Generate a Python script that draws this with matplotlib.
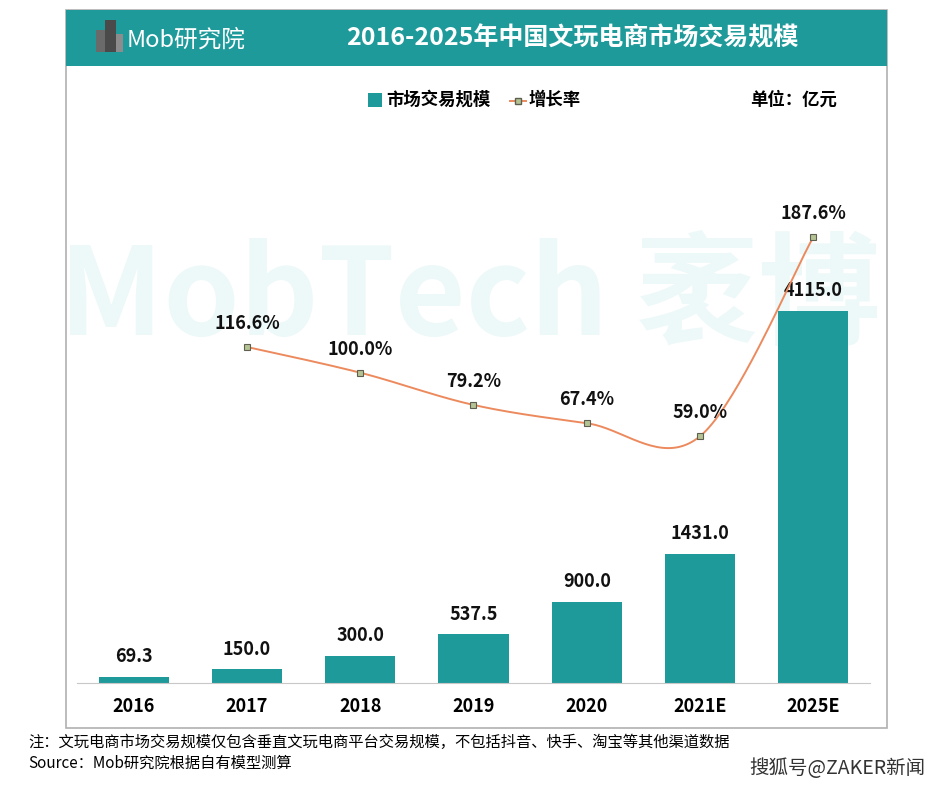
import numpy as np
import matplotlib.pyplot as plt
from matplotlib.patches import Rectangle

plt.rcParams['font.family'] = ['Noto Sans CJK SC', 'DejaVu Sans']

# 数据
anos = ['2016', '2017', '2018', '2019', '2020', '2021E', '2025E']
escala = [69.3, 150.0, 300.0, 537.5, 900.0, 1431.0, 4115.0]
taxa_anos = ['2017', '2018', '2019', '2020', '2021E', '2025E']
taxa = [116.6, 100.0, 79.2, 67.4, 59.0, 187.6]

teal = '#1f9a9b'
W, H = 932, 788

fig = plt.figure(figsize=(W / 100, H / 100), dpi=100)

def fx(px):
    return px / W

def fy(py):
    return 1 - py / H

# moldura e faixa do título
fig.patches.append(Rectangle((fx(66), fy(728)), fx(887) - fx(66), fy(10) - fy(728),
                             transform=fig.transFigure, facecolor='white',
                             edgecolor='#b0b0b0', lw=1.2, zorder=-2))
fig.patches.append(Rectangle((fx(66), fy(66)), fx(887) - fx(66), fy(10) - fy(66),
                             transform=fig.transFigure, facecolor=teal,
                             edgecolor='none', zorder=1))
fig.text(fx(572), fy(38), '2016-2025年中国文玩电商市场交易规模', color='white',
         fontsize=18, fontweight='bold', ha='center', va='center')

# logo simples
for (x0, y0, w, h, c) in [(96, 30, 9, 22, '#6a6a6a'), (105, 20, 11, 32, '#4a4a4a'),
                          (116, 34, 7, 18, '#8c8c8c')]:
    fig.patches.append(Rectangle((fx(x0), fy(y0 + h)), fx(w), h / H,
                                 transform=fig.transFigure, facecolor=c,
                                 edgecolor='none', zorder=2))
fig.text(fx(127), fy(40), 'Mob研究院', color='white', fontsize=17,
         style='italic', ha='left', va='center')

# marca d'água
fig.text(fx(470), fy(300), 'MobTech 袤博', color='#edf8f8', fontsize=88,
         style='italic', fontweight='bold', ha='center', va='center', zorder=-1)

# eixos principais
ax = fig.add_axes([fx(77), fy(683), fx(870) - fx(77), fy(120) - fy(683)])
ax.set_zorder(1)
ax.patch.set_alpha(0)
x = np.arange(len(anos))
ax.bar(x, escala, width=0.62, color=teal, zorder=2)
ax.set_xlim(-0.5, 6.5)
ax.set_ylim(0, 4115 * 563 / 372)
for i, v in enumerate(escala):
    ax.text(i, v + 120, f'{v:.1f}', ha='center', va='bottom', fontsize=13,
            fontweight='bold', color='#111111')
ax.set_xticks(x)
ax.set_xticklabels(anos, fontsize=13, fontweight='bold')
ax.tick_params(axis='x', length=0, pad=10)
ax.set_yticks([])
for s in ['top', 'left', 'right']:
    ax.spines[s].set_visible(False)
ax.spines['bottom'].set_color('#c8c8c8')

# linha suavizada (catmull-rom)
ax2 = ax.twinx()
ax2.set_zorder(2)
ax2.patch.set_alpha(0)
ax2.set_ylim(-100.3, 263.1)
xi = np.array([anos.index(a) for a in taxa_anos], dtype=float)
yi = np.array(taxa)
px = np.concatenate([[xi[0]], xi, [xi[-1]]])
py = np.concatenate([[yi[0]], yi, [yi[-1]]])
cx, cy = [], []
t = np.linspace(0, 1, 40)
for k in range(1, len(px) - 2):
    p0, p1, p2, p3 = px[k - 1], px[k], px[k + 1], px[k + 2]
    q0, q1, q2, q3 = py[k - 1], py[k], py[k + 1], py[k + 2]
    bx = 0.5 * ((2 * p1) + (-p0 + p2) * t + (2 * p0 - 5 * p1 + 4 * p2 - p3) * t ** 2 + (-p0 + 3 * p1 - 3 * p2 + p3) * t ** 3)
    by = 0.5 * ((2 * q1) + (-q0 + q2) * t + (2 * q0 - 5 * q1 + 4 * q2 - q3) * t ** 2 + (-q0 + 3 * q1 - 3 * q2 + q3) * t ** 3)
    cx.extend(bx)
    cy.extend(by)
ax2.plot(cx, cy, color='#ec8a5e', lw=1.4, zorder=3)
ax2.plot(xi, yi, ls='none', marker='s', ms=5, mfc='#b4c394', mec='#5f5f50', mew=0.8, zorder=4)
for xx, v in zip(xi, yi):
    ax2.text(xx, v + 9, f'{v:.1f}%', ha='center', va='bottom', fontsize=13,
             fontweight='bold', color='#111111')
ax2.set_yticks([])
for s in ['top', 'left', 'right', 'bottom']:
    ax2.spines[s].set_visible(False)

# legenda
fig.patches.append(Rectangle((fx(368), fy(107)), fx(14), 14 / H, transform=fig.transFigure,
                             facecolor=teal, edgecolor='none'))
fig.text(fx(386), fy(100), '市场交易规模', fontsize=12.5, fontweight='bold', va='center')
fig.lines.append(plt.Line2D([fx(510), fx(526)], [fy(101), fy(101)], transform=fig.transFigure,
                            color='#ec8a5e', lw=1.4))
fig.lines.append(plt.Line2D([fx(518)], [fy(101)], transform=fig.transFigure, marker='s',
                            ms=5, mfc='#b4c394', mec='#5f5f50', ls='none'))
fig.text(fx(529), fy(100), '增长率', fontsize=12.5, fontweight='bold', va='center')
fig.text(fx(750), fy(100), '单位：亿元', fontsize=12.5, fontweight='bold', va='center')

# rodapé
fig.text(fx(28), fy(742), '注：文玩电商市场交易规模仅包含垂直文玩电商平台交易规模，不包括抖音、快手、淘宝等其他渠道数据',
         fontsize=11, va='center')
fig.text(fx(28), fy(763), 'Source：Mob研究院根据自有模型测算', fontsize=11, va='center')
fig.text(fx(925), fy(768), '搜狐号@ZAKER新闻', fontsize=14, color='#333333',
         ha='right', va='center')

fig.savefig('out.png', dpi=100)
